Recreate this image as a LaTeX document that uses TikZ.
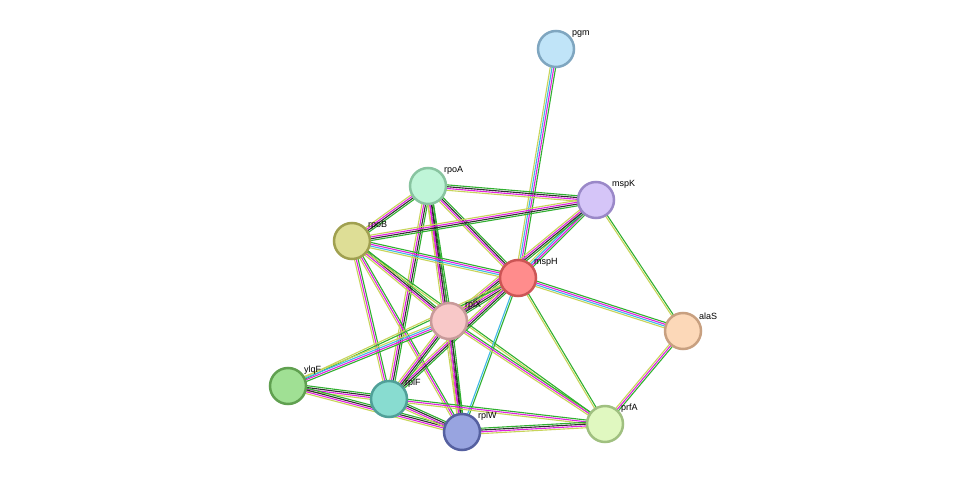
\documentclass[tikz,border=0pt]{standalone}
\usepackage{fontspec}
\setmainfont{Liberation Sans}
\usetikzlibrary{calc}
\definecolor{yg}{HTML}{C8D45A}
\definecolor{mg}{HTML}{E020E0}
\definecolor{gr}{HTML}{30B030}
\definecolor{cy}{HTML}{40B8E8}
\definecolor{bk}{HTML}{303030}
\newcommand\edg[3]{\foreach \cc/\oo in #3{\draw[\cc,line width=1.1pt] ($(#1.center)!\oo pt!90:(#2.center)$) -- ($(#2.center)!\oo pt!-90:(#1.center)$);}}
\newcommand\fa{yg/-2.7,mg/-0.9,bk/0.9,gr/2.7}
\newcommand\fb{yg/-1.8,mg/0,gr/1.8}
\newcommand\fc{yg/-0.9,gr/0.9}
\newcommand\fd{yg/-2.7,cy/-0.9,mg/0.9,gr/2.7}
\newcommand\fe{cy/-0.9,gr/0.9}
\begin{document}
\begin{tikzpicture}[x=1pt,y=-1pt,
 nd/.style={circle,minimum size=36pt,inner sep=0pt,line width=2.5pt},
 lb/.style={font=\fontsize{9}{10}\selectfont,anchor=south west,inner sep=1pt}]
\useasboundingbox (0,0) rectangle (975,478);
\foreach \n/\x/\y in {pgm/556/49,rpoA/428/186,mspK/596/200,rpoB/352/241,mspH/518/278,rplX/449/321,alaS/683/331,ylqF/288/386,rplF/389/399,rplW/462/432,prfA/605/424}{
 \coordinate (\n) at (\x,\y);}
\edg{pgm}{mspH}{\fd}
\edg{rpoA}{mspK}{\fa}\edg{rpoA}{rpoB}{\fa}\edg{rpoA}{mspH}{\fa}\edg{rpoA}{rplX}{\fa}\edg{rpoA}{rplF}{\fa}\edg{rpoA}{rplW}{\fa}
\edg{mspK}{rpoB}{\fa}\edg{mspK}{mspH}{\fd}\edg{mspK}{rplX}{\fa}\edg{mspK}{alaS}{\fc}
\edg{rpoB}{mspH}{\fd}\edg{rpoB}{rplX}{\fa}\edg{rpoB}{rplF}{\fb}\edg{rpoB}{rplW}{\fb}\edg{rpoB}{prfA}{\fc}
\edg{mspH}{rplX}{\fa}\edg{mspH}{alaS}{\fd}\edg{mspH}{prfA}{\fc}\edg{mspH}{rplW}{\fe}\edg{mspH}{rplF}{\fa}\edg{mspH}{ylqF}{\fc}
\edg{rplX}{ylqF}{\fd}\edg{rplX}{rplF}{\fa}\edg{rplX}{rplW}{\fa}\edg{rplX}{prfA}{\fb}
\edg{alaS}{prfA}{\fb}
\edg{ylqF}{rplF}{\fa}\edg{ylqF}{rplW}{\fa}
\edg{rplF}{rplW}{\fa}\edg{rplF}{prfA}{\fb}\edg{rplW}{prfA}{\fa}
\foreach \n/\x/\y/\f/\d in {pgm/556/49/C0E4F8/7FA6C0,rpoA/428/186/BFF5D8/88C4A0,mspK/596/200/D5C5F8/9A88C8,rpoB/352/241/DEDE96/A0A050,mspH/518/278/FF8C8C/CC5555,rplX/449/321/F8C8C8/C89A9A,alaS/683/331/FCD8B8/C8A080,ylqF/288/386/A0E094/60A050,rplF/389/399/88DCD0/50A098,rplW/462/432/98A4E0/5560A0,prfA/605/424/E0F8C0/A0C080}{
 \definecolor{f\n}{HTML}{\f}\definecolor{d\n}{HTML}{\d}
 \node[nd,fill=f\n,draw=d\n] (n\n) at (\x,\y) {};
 \node[lb] (l\n) at (\x+15,\y-10) {\n};}
\end{tikzpicture}
\end{document}
